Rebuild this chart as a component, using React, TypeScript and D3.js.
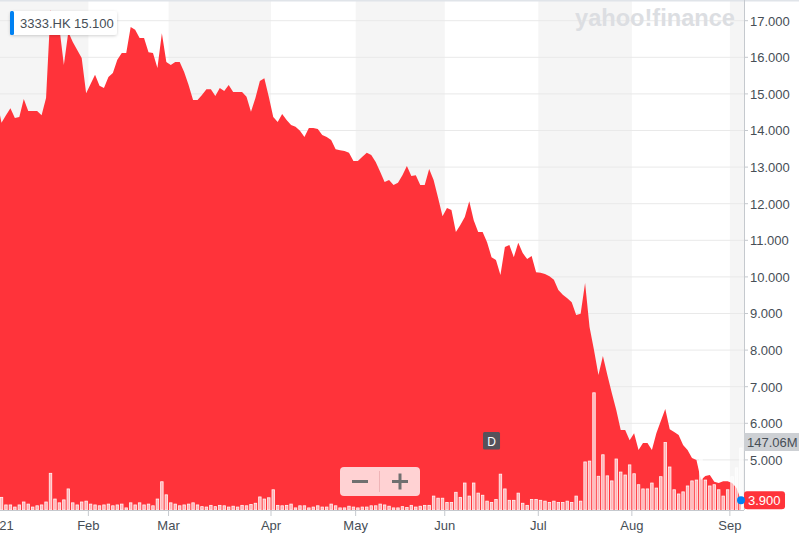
import React from "react";
import * as d3 from "d3";

// ---- data (trading-day index, first entry = Dec 31 2020 at index -1) ----
const SYMBOL = "3333.HK";
const LEGEND_VALUE = "15.100";
const LAST_PRICE_LABEL = "3.900";
const LAST_VOLUME_LABEL = "147.06M";
const FIRST_INDEX = -1;
const LAST_INDEX = 166;

const prices: number[] = [
  14.83, 14.21, 14.42, 14.61, 14.34, 14.37, 14.86, 14.53, 14.53, 14.53,
  14.42, 14.89, 17.29, 16.96, 16.8, 15.79, 16.69, 16.42, 16.2, 15.98,
  15.02, 15.27, 15.52, 15.22, 15.16, 15.46, 15.57, 15.93, 16.12, 16.12,
  16.83, 16.75, 16.53, 16.53, 16.14, 16.12, 15.71, 16.66, 15.87, 15.79,
  15.87, 15.87, 15.6, 15.24, 14.83, 14.83, 14.97, 15.13, 15.13, 14.94,
  15.16, 15.08, 15.24, 15.05, 15.05, 15.05, 14.92, 14.51, 14.89, 15.35,
  15.43, 14.92, 14.37, 14.23, 14.45, 14.29, 14.15, 14.1, 13.99, 13.82,
  14.07, 14.07, 14.04, 13.88, 13.82, 13.74, 13.49, 13.46, 13.44, 13.39,
  13.17, 13.17, 13.28, 13.39, 13.33, 13.14, 12.87, 12.59, 12.65, 12.51,
  12.57, 12.78, 13.03, 12.76, 12.78, 12.51, 12.51, 12.95, 12.65, 12.16,
  11.66, 11.88, 11.83, 11.23, 11.42, 11.64, 12.07, 11.55, 11.23, 11.23,
  10.95, 10.54, 10.46, 10.05, 10.82, 10.87, 10.54, 10.93, 10.65, 10.49,
  10.57, 10.13, 10.11, 10.08, 10.02, 9.92, 9.64, 9.51, 9.42, 9.31,
  8.96, 8.99, 9.83, 8.63, 8.0, 7.32, 7.84, 7.32, 6.83, 6.36,
  5.82, 5.82, 5.54, 5.73, 5.27, 5.46, 5.46, 5.27, 5.73, 6.06,
  6.39, 5.84, 5.76, 5.68, 5.41, 5.27, 5.05, 5.0, 4.45, 4.56,
  4.59, 4.4, 4.37, 4.42, 4.42, 4.37, 4.23, 3.9,
];

// volume in millions of shares
const volumes: number[] = [
  20,
  30, 12, 12, 7, 12, 19, 14, 7, 10, 12,
  19, 87, 26, 17, 24, 50, 17, 12, 19, 21,
  14, 12, 10, 12, 14, 10, 12, 14, 5, 17,
  12, 17, 12, 14, 10, 26, 67, 36, 17, 14,
  10, 12, 14, 17, 12,
  8, 7, 11, 8, 11,
  10, 7, 9, 7, 11, 10, 13, 16, 31, 26,
  29, 48, 11, 10, 11, 14, 5, 10, 10, 5,
  7, 10, 7, 7, 14, 10, 5, 5, 9, 7,
  5, 7, 7, 10, 10, 14, 12, 9, 5, 5,
  8, 6, 11, 7, 9, 11, 11, 33, 28, 28,
  18, 18, 42, 30, 64, 33, 64, 40, 35, 21,
  18, 25, 85, 50, 23, 23, 40, 16, 11, 25,
  25, 23, 21, 18, 21, 18, 18, 21, 18, 33,
  21, 114, 116, 278, 80,
  131, 81, 69, 121, 90, 83, 107, 86, 60, 50,
  50, 64, 52, 79, 160, 102, 48, 38, 43, 57,
  69, 71, 126, 71, 57, 60, 48, 33, 48, 79, 100, 147.06,
];

const monthLabels = ["2021", "Feb", "Mar", "Apr", "May", "Jun", "Jul", "Aug", "Sep"];
const monthStarts = [0, 20, 38, 61, 80, 100, 121, 142, 164];
const priceTicks = [5, 6, 7, 8, 9, 10, 11, 12, 13, 14, 15, 16, 17];
const EVENT_INDEX = 110; // "D" marker

const FONT = "'Liberation Sans', Arial, Helvetica, sans-serif";
const TEXT = "#464e56";
const RED = "#ff333a";

export default function App() {
  const W = 799;
  const H = 540;
  const plotRight = 744;
  const plotBottom = 510;

  const x = d3.scaleLinear().domain([0, LAST_INDEX]).range([1.5, 741]);
  const y = d3.scaleLinear().domain([5, 17]).range([459.9, 20.7]);
  const v = d3.scaleLinear().domain([0, 147.06]).range([plotBottom, 448]);

  const data = prices.map((p, k) => ({ i: k + FIRST_INDEX, p, vol: volumes[k] }));

  const area = d3
    .area<{ i: number; p: number }>()
    .x((d) => x(d.i))
    .y0(plotBottom)
    .y1((d) => y(d.p));

  const bounds = monthStarts.map((s) => x(s) - 2.23);
  const bands: { x0: number; x1: number }[] = [];
  for (let k = 0; k < bounds.length; k += 2) {
    const x0 = Math.max(0, bounds[k]);
    const x1 = k + 1 < bounds.length ? bounds[k + 1] : plotRight;
    bands.push({ x0, x1 });
  }

  const last = data[data.length - 1];
  const evX = x(EVENT_INDEX);

  return (
    <svg
      width={W}
      height={H}
      style={{ position: "absolute", left: 0, top: 0, display: "block", background: "#fff" }}
      fontFamily={FONT}
    >
      <defs>
        <clipPath id="plot">
          <rect x={0} y={0} width={plotRight} height={plotBottom} />
        </clipPath>
        <filter id="shadow" x="-20%" y="-40%" width="140%" height="180%">
          <feDropShadow dx="0" dy="1" stdDeviation="1.5" floodColor="#000" floodOpacity="0.18" />
        </filter>
      </defs>

      {/* month bands */}
      {bands.map((b, k) => (
        <rect key={"b" + k} x={b.x0} y={0} width={b.x1 - b.x0} height={plotBottom} fill="#f5f5f5" />
      ))}

      {/* gridlines */}
      {priceTicks.map((t) => (
        <line key={"g" + t} x1={0} x2={plotRight} y1={y(t)} y2={y(t)} stroke="#e9e9e9" strokeWidth={1} />
      ))}

      {/* watermark */}
      <text
        x={735}
        y={26}
        textAnchor="end"
        fontSize={23}
        fontWeight={900}
        fill="#dcdee2"
        textLength={160}
        lengthAdjust="spacingAndGlyphs"
        fontFamily="'Liberation Sans', Arial, sans-serif"
      >
        yahoo!finance
      </text>

      <g clipPath="url(#plot)">
        <path d={area(data) || ""} fill={RED} />
        {data.map((d) => {
          const top = v(d.vol);
          return (
            <rect
              key={"v" + d.i}
              x={x(d.i) - 1.25}
              y={top}
              width={2.5}
              height={plotBottom - top}
              fill="rgba(255,255,255,0.62)"
              stroke="rgba(255,255,255,0.92)"
              strokeWidth={0.8}
            />
          );
        })}
      </g>

      {/* top border */}
      <rect x={0} y={0} width={W} height={1.5} fill="#e0e4e9" />

      {/* axes */}
      <line x1={plotRight + 0.5} x2={plotRight + 0.5} y1={0} y2={plotBottom} stroke="#c5c9ce" />
      <line x1={0} x2={plotRight} y1={plotBottom + 0.5} y2={plotBottom + 0.5} stroke="#c5c9ce" />

      {priceTicks.map((t) => (
        <g key={"yt" + t}>
          <line x1={plotRight} x2={plotRight + 4} y1={y(t)} y2={y(t)} stroke="#c5c9ce" />
          <text x={750} y={y(t) + 4.8} fontSize={13} fill={TEXT}>
            {t.toFixed(3)}
          </text>
        </g>
      ))}

      {monthLabels.map((m, k) => (
        <g key={"m" + m}>
          <line x1={bounds[k]} x2={bounds[k]} y1={plotBottom} y2={plotBottom + 6} stroke="#c5c9ce" />
          <text x={bounds[k]} y={530} fontSize={13} fill={TEXT} textAnchor="middle">
            {m}
          </text>
        </g>
      ))}

      {/* event marker */}
      <rect x={evX - 8.5} y={432} width={17} height={17.5} rx={1.5} fill="#56525b" />
      <text x={evX} y={445.5} fontSize={12} fill="#fff" textAnchor="middle">
        D
      </text>

      {/* zoom control */}
      <g>
        <rect x={340} y={467} width={80} height={29} rx={4} fill="rgba(255,255,255,0.78)" />
        <line x1={379.5} x2={379.5} y1={471} y2={492} stroke="#efb4b7" />
        <line x1={352} x2={368} y1={481.5} y2={481.5} stroke="#707070" strokeWidth={3} />
        <line x1={392} x2={408} y1={481.5} y2={481.5} stroke="#707070" strokeWidth={3} />
        <line x1={400} x2={400} y1={473.5} y2={489.5} stroke="#707070" strokeWidth={3} />
      </g>

      {/* legend box */}
      <g filter="url(#shadow)">
        <rect x={10} y={11} width={107} height={24} rx={3} fill="#fff" />
      </g>
      <rect x={10} y={11} width={4} height={24} rx={1.5} fill="#0081f2" />
      <text x={20} y={28} fontSize={13} fill={TEXT}>
        {SYMBOL}
      </text>
      <text x={74} y={28} fontSize={13} fill={TEXT}>
        {LEGEND_VALUE}
      </text>

      {/* volume label */}
      <rect x={744} y={433} width={55} height={18} fill="#cdd0d4" />
      <text x={747} y={446.5} fontSize={13} fill={TEXT}>
        {LAST_VOLUME_LABEL}
      </text>

      {/* last price label */}
      <rect x={744} y={y(last.p) - 9} width={41} height={18} rx={3} fill={RED} />
      <text x={748} y={y(last.p) + 4.8} fontSize={13} fill="#fff">
        {LAST_PRICE_LABEL}
      </text>
      <circle cx={x(last.i)} cy={y(last.p)} r={4} fill="#0081f2" />
    </svg>
  );
}
